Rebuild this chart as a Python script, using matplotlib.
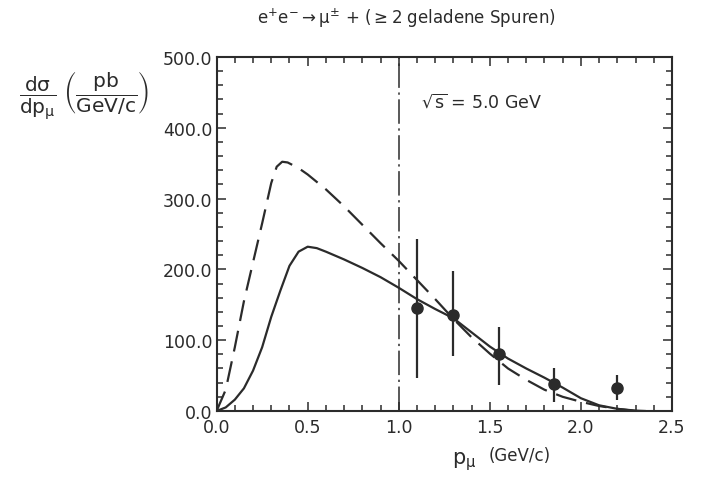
import matplotlib
matplotlib.use("Agg")
import matplotlib.pyplot as plt
from matplotlib.ticker import MultipleLocator, FormatStrFormatter

plt.rcParams['font.family'] = ['DejaVu Sans']
plt.rcParams['mathtext.fontset'] = 'dejavusans'
plt.rcParams['mathtext.default'] = 'regular'

# Solid curve
solid_x = [0.0, 0.05, 0.1, 0.15, 0.2, 0.25, 0.3, 0.35, 0.4, 0.45, 0.5, 0.55, 0.6, 0.7, 0.8,
           0.9, 1.0, 1.1, 1.2, 1.3, 1.4, 1.5, 1.6, 1.7, 1.8, 1.9, 2.0, 2.1, 2.2, 2.3, 2.35]
solid_y = [0, 5, 16, 32, 57, 90, 133, 170, 205, 225, 232, 230, 225, 214, 202,
           189, 174, 158, 144, 131, 111, 91, 74, 60, 47, 33, 18, 8, 3, 0.5, 0]

# Dashed curve
dash_x = [0.0, 0.05, 0.1, 0.15, 0.2, 0.25, 0.3, 0.33, 0.36, 0.39, 0.45, 0.5, 0.6, 0.7, 0.8,
          0.9, 1.0, 1.1, 1.2, 1.3, 1.4, 1.5, 1.6, 1.7, 1.8, 1.9, 2.0, 2.1, 2.2, 2.3]
dash_y = [0, 30, 90, 155, 210, 265, 322, 345, 352, 351, 343, 334, 313, 289, 263,
          237, 212, 185, 158, 130, 104, 81, 60, 44, 30, 20, 13, 7, 3, 0]

# Data points
pt_x = [1.1, 1.3, 1.55, 1.85, 2.2]
pt_y = [146, 136, 80, 38, 33]
pt_lo = [46, 77, 37, 13, 16]
pt_hi = [243, 197, 118, 60, 51]

x_ticks = [0.0, 0.5, 1.0, 1.5, 2.0, 2.5]
y_ticks = [0.0, 100.0, 200.0, 300.0, 400.0, 500.0]

col = '#2b2b2b'

fig = plt.figure(figsize=(7.01, 4.81), dpi=100)
ax = fig.add_axes([0.309, 0.1435, 0.6496, 0.736])

ax.plot(solid_x, solid_y, color=col, lw=1.6, solid_joinstyle='round')
ax.plot(dash_x, dash_y, color=col, lw=1.6, dashes=(9.5, 4.5))
ax.axvline(1.0, color=col, lw=1.1, dashes=(16, 3, 1.5, 3))

yerr = [[y - lo for y, lo in zip(pt_y, pt_lo)], [hi - y for y, hi in zip(pt_y, pt_hi)]]
ax.errorbar(pt_x, pt_y, yerr=yerr, fmt='o', color=col, ms=8, elinewidth=1.6, capsize=0)

ax.set_xlim(0, 2.5)
ax.set_ylim(0, 500)
ax.set_xticks(x_ticks)
ax.set_yticks(y_ticks)
ax.xaxis.set_major_formatter(FormatStrFormatter('%.1f'))
ax.yaxis.set_major_formatter(FormatStrFormatter('%.1f'))
ax.xaxis.set_minor_locator(MultipleLocator(0.1))
ax.yaxis.set_minor_locator(MultipleLocator(20))
ax.tick_params(which='both', direction='in', top=True, right=True, color=col, width=1.1,
               labelsize=12.5, labelcolor=col)
ax.tick_params(which='major', length=6.5)
ax.tick_params(which='minor', length=4)
ax.tick_params(axis='x', pad=5)
ax.tick_params(axis='y', pad=3)
for s in ax.spines.values():
    s.set_linewidth(1.5)
    s.set_color(col)

ax.text(1.12, 438, r'$\sqrt{s}$ = 5.0 GeV', fontsize=12.5, color=col, va='center', ha='left')

fig.text(0.58, 0.962, r'e$^{+}$e$^{-}$$\rightarrow$$\mu^{\pm}$ + ($\geq$2 geladene Spuren)',
         fontsize=12, color=col, ha='center', va='center')

fig.text(0.027, 0.80, r'$\dfrac{d\sigma}{dp_{\mu}}\ \left(\dfrac{pb}{GeV/c}\right)$',
         fontsize=14.5, color=col, ha='left', va='center')

fig.text(0.645, 0.04, r'$p_{\mu}$', fontsize=15, color=col, ha='left', va='center')
fig.text(0.697, 0.052, '(GeV/c)', fontsize=12, color=col, ha='left', va='center')

fig.savefig('out.png', dpi=100)
